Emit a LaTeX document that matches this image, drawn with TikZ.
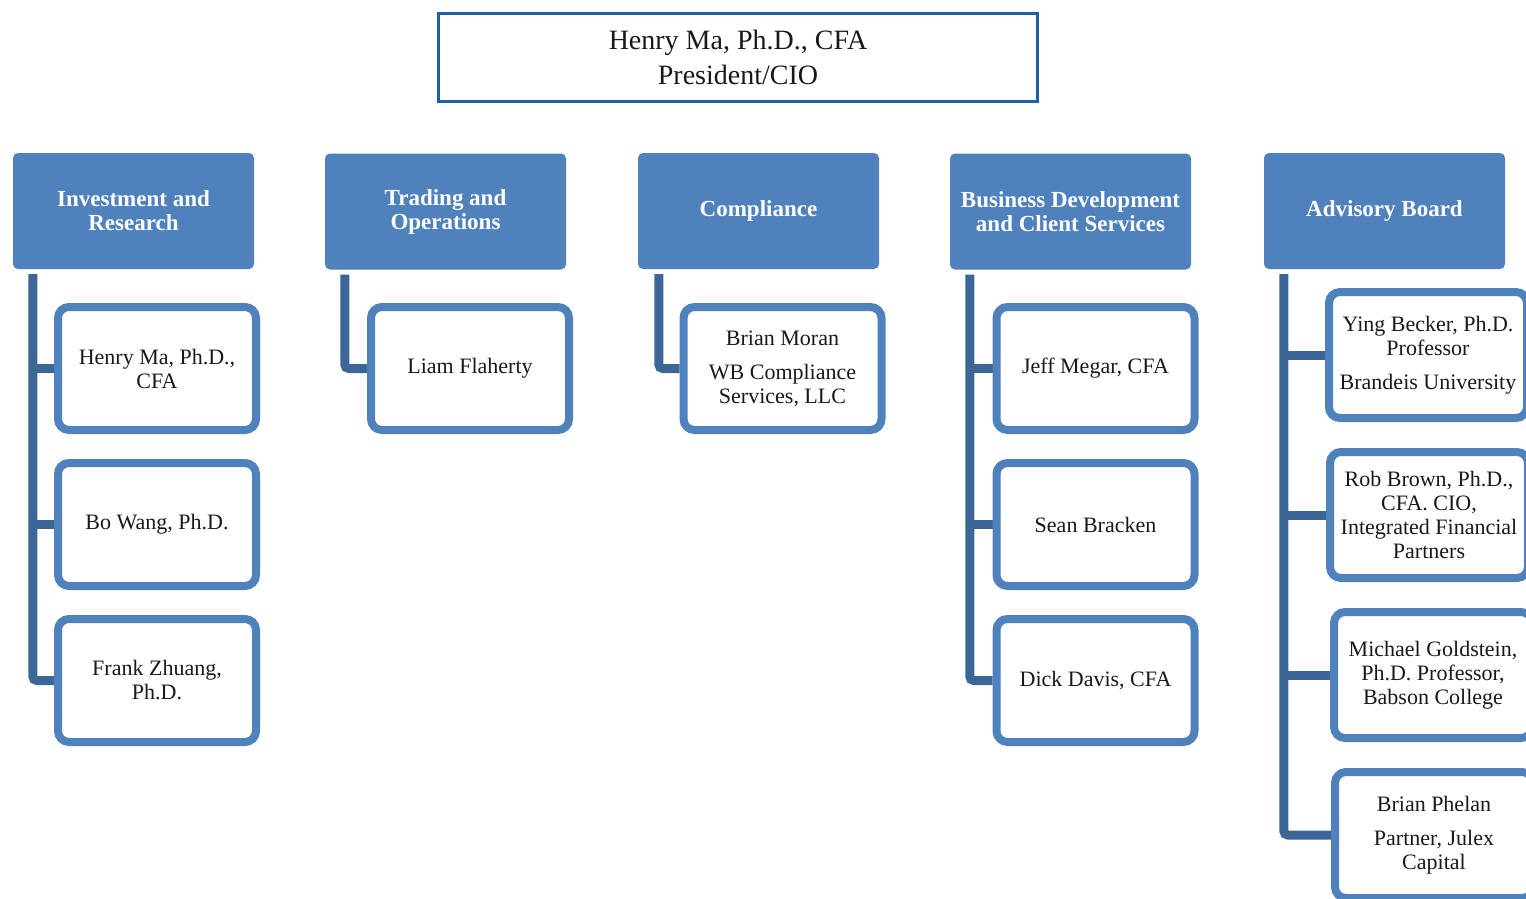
\documentclass[tikz,border=0pt]{standalone}
\usepackage{fontspec}
\setmainfont{Liberation Serif}
\usetikzlibrary{backgrounds}
\definecolor{hdrblue}{RGB}{79,129,189}
\definecolor{conblue}{RGB}{60,102,150}
\definecolor{topblue}{RGB}{30,96,160}
\definecolor{txt}{RGB}{25,25,25}
\begin{document}
\begin{tikzpicture}[x=1pt,y=-1pt,
  topbox/.style={draw=topblue,line width=3pt,fill=white,minimum width=599pt,minimum height=88pt,
    align=center,text=txt,font=\fontsize{28}{35}\selectfont,inner sep=0pt},
  hdr/.style={fill=hdrblue,rounded corners=5pt,minimum width=241pt,minimum height=116pt,
    align=center,text=white,font=\fontsize{23}{24}\selectfont\bfseries,inner sep=0pt},
  child/.style={draw=hdrblue,line width=8pt,fill=white,rounded corners=11pt,minimum width=198pt,
    minimum height=123pt,align=center,text=txt,font=\fontsize{22}{24}\selectfont,inner sep=0pt},
  childB/.style={child,minimum height=126pt},
  conn/.style={draw=conblue,line width=9pt,rounded corners=4pt}]
\useasboundingbox (0,0) rectangle (1526,898);
\clip (0,0) rectangle (1526,898);

\node[topbox] (top) at (738,57.5) {Henry Ma, Ph.D., CFA\\President/CIO};

\node[hdr] (h1) at (133.5,211) {Investment and\\Research};
\node[hdr] (h2) at (445.5,211.5) {Trading and\\Operations};
\node[hdr] (h3) at (758.5,211) {Compliance};
\node[hdr] (h4) at (1070.5,211.5) {Business Development\\and Client Services};
\node[hdr] (h5) at (1384.5,211) {Advisory Board};

\node[child] (c11) at (157,368.5) {Henry Ma, Ph.D.,\\CFA};
\node[child] (c12) at (157,524.5) {Bo Wang, Ph.D.};
\node[child] (c13) at (157,680.5) {Frank Zhuang,\\Ph.D.};

\node[child] (c21) at (470,368.5) {Liam Flaherty};

\node[child] (c31) at (782.5,368.5) {Brian Moran\\[10pt]WB Compliance\\Services, LLC};

\node[child] (c41) at (1095.5,368.5) {Jeff Megar, CFA};
\node[child] (c42) at (1095.5,524.5) {Sean Bracken};
\node[child] (c43) at (1095.5,680.5) {Dick Davis, CFA};

\node[childB] (c51) at (1428,355) {Ying Becker, Ph.D.\\Professor\\[10pt]Brandeis University};
\node[childB] (c52) at (1429,515) {Rob Brown, Ph.D.,\\CFA. CIO,\\Integrated Financial\\Partners};
\node[childB] (c53) at (1433,675) {Michael Goldstein,\\Ph.D. Professor,\\Babson College};
\node[childB] (c54) at (1434,835) {Brian Phelan\\[10pt]Partner, Julex\\Capital};

\begin{scope}[on background layer]
  \coordinate (s1) at ([xshift=20pt,yshift=-5pt]h1.south west);
  \coordinate (s2) at ([xshift=20pt,yshift=-5pt]h2.south west);
  \coordinate (s3) at ([xshift=21pt,yshift=-5pt]h3.south west);
  \coordinate (s4) at ([xshift=20pt,yshift=-5pt]h4.south west);
  \coordinate (s5) at ([xshift=20pt,yshift=-5pt]h5.south west);
  \path[conn] (s1) |- (c13.west);
  \path[conn] (s1 |- c11.west) -- (c11.west);
  \path[conn] (s1 |- c12.west) -- (c12.west);
  \path[conn] (s2) |- (c21.west);
  \path[conn] (s3) |- (c31.west);
  \path[conn] (s4) |- (c43.west);
  \path[conn] (s4 |- c41.west) -- (c41.west);
  \path[conn] (s4 |- c42.west) -- (c42.west);
  \path[conn] (s5) |- (c54.west);
  \path[conn] (s5 |- c51.west) -- (c51.west);
  \path[conn] (s5 |- c52.west) -- (c52.west);
  \path[conn] (s5 |- c53.west) -- (c53.west);
\end{scope}
\end{tikzpicture}
\end{document}
